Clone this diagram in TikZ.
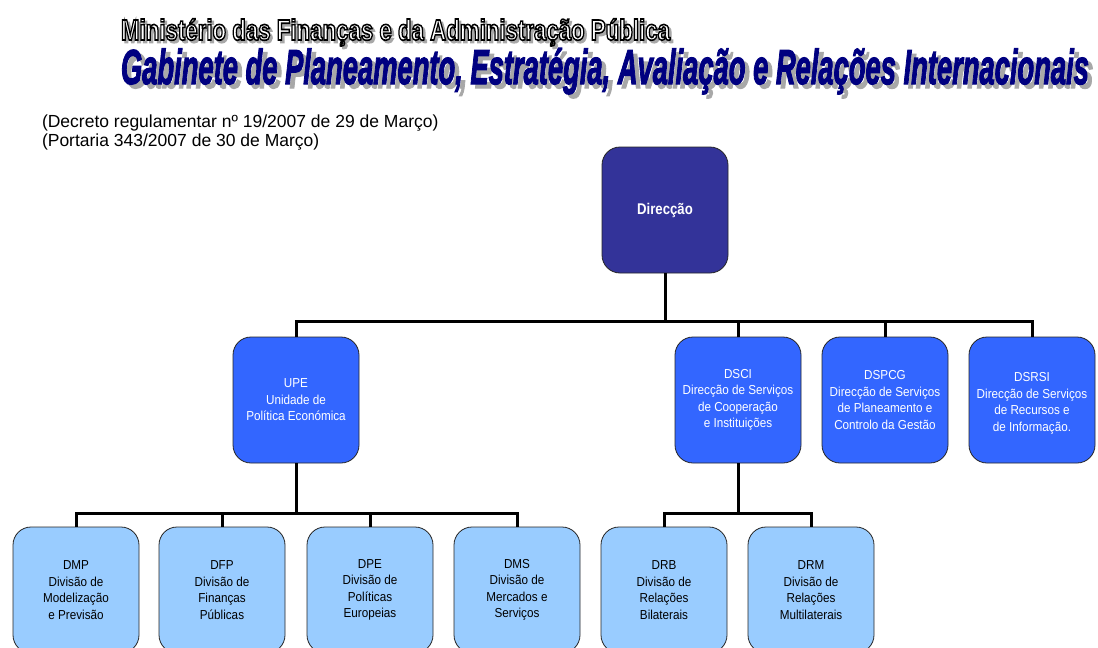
\documentclass[tikz,border=0pt]{standalone}
\usepackage{fontspec}
\usepackage{graphicx}
\setmainfont{Liberation Sans}
\newfontfamily\boxfont[FakeStretch=0.9]{Liberation Sans}
\newfontfamily\dirfont[FakeStretch=0.85]{Liberation Sans}
\definecolor{dirc}{HTML}{333399}
\definecolor{midc}{HTML}{3366FF}
\definecolor{lowc}{HTML}{99CCFF}
\definecolor{navyc}{HTML}{000080}
\definecolor{shadc}{HTML}{A8A8A8}
% text render mode 2 (fill + stroke); stroke colour set after the fill colour
\newcommand{\strokeblack}[1]{\special{pdf:literal direct 0 0 0 RG 2 Tr #1 w}}
\newcommand{\strokesame}[1]{\special{pdf:literal direct 2 Tr #1 w}}
\newcommand{\strokeoff}{\special{pdf:literal direct 0 Tr}}
\newcommand{\txtA}{Ministério das Finanças e da Administração Pública}
\newcommand{\txtB}{Gabinete de Planeamento, Estratégia, Avaliação e Relações Internacionais}
\newcommand{\fitA}[1]{\resizebox{549pt}{\height}{\fontsize{29}{29}\selectfont\bfseries #1}}
\newcommand{\fitB}[1]{\resizebox{968pt}{\height}{\fontsize{49}{49}\selectfont\bfseries\itshape #1}}
\newcommand{\outA}{%
  \makebox[0pt][l]{\kern2.5pt\raisebox{-2.5pt}{\color{shadc}\fitA{\strokesame{1.6}\txtA\strokeoff}}}%
  {\color{white}\fitA{\strokeblack{1.6}\txtA\strokeoff}}}
\newcommand{\outB}{%
  \makebox[0pt][l]{\kern4.5pt\raisebox{-4pt}{\color{shadc}\fitB{\strokesame{1.4}\txtB\strokeoff}}}%
  {\color{navyc}\fitB{\strokesame{1.4}\txtB\strokeoff}}}
\begin{document}
\begin{tikzpicture}[x=1pt,y=-1pt,
  orgbox/.style={draw=black!85, line width=0.8pt, rounded corners=18pt,
    minimum width=126pt, minimum height=126pt, inner sep=0pt, align=center,
    font=\boxfont\fontsize{13}{16.5}\selectfont},
  topbox/.style={orgbox, fill=dirc, text=white, font=\dirfont\bfseries\fontsize{15.5}{18}\selectfont},
  midbox/.style={orgbox, fill=midc, text=white},
  lowbox/.style={orgbox, fill=lowc, text=black},
  conn/.style={line width=3pt, draw=black},
  ttl/.style={anchor=base west, inner sep=0pt, outer sep=0pt}]
\useasboundingbox (0,0) rectangle (1098,648);
\fill[white] (0,0) rectangle (1098,648);

% titles
\node[ttl] (t1) at (121,40) {\outA};
\node[ttl] (t2) at (121,84) {\outB};

% decree
\node[ttl, font=\fontsize{17.5}{20}\selectfont] (dec1) at (42,127) {(Decreto regulamentar nº 19/2007 de 29 de Março)};
\node[ttl, font=\fontsize{17.5}{20}\selectfont] (dec2) at (42,146) {(Portaria 343/2007 de 30 de Março)};

% boxes
\node[topbox] (dir) at (665,210) {Direcção};
\node[midbox] (upe) at (296,400) {UPE\\Unidade de\\Política Económica};
\node[midbox] (dsci) at (738,400) {DSCI\\Direcção de Serviços\\de Cooperação\\e Instituições};
\node[midbox] (dspcg) at (885,400) {DSPCG\\Direcção de Serviços\\de Planeamento e\\Controlo da Gestão};
\node[midbox] (dsrsi) at (1032,400) {\mbox{}\\[-0.5pt]DSRSI\\Direcção de Serviços\\de Recursos e\\de Informação.};

\node[lowbox] (dmp) at (76,590) {DMP\\Divisão de\\Modelização\\e Previsão};
\node[lowbox] (dfp) at (222,590) {DFP\\Divisão de\\Finanças\\Públicas};
\node[lowbox] (dpe) at (370,590) {DPE\\Divisão de\\Políticas\\Europeias};
\node[lowbox] (dms) at (517,590) {DMS\\Divisão de\\Mercados e\\Serviços};
\node[lowbox] (drb) at (664,590) {DRB\\Divisão de\\Relações\\Bilaterais};
\node[lowbox] (drm) at (811,590) {DRM\\Divisão de\\Relações\\Multilaterais};

% bus coordinates
\coordinate (bus1) at (0,321);
\coordinate (bus2) at (0,513);

% connectors
\foreach \c in {upe,dsci,dspcg,dsrsi}
  \draw[conn] (dir.south) -- (dir.south |- bus1) -| (\c.north);
\foreach \c in {dmp,dfp,dpe,dms}
  \draw[conn] (upe.south) -- (upe.south |- bus2) -| (\c.north);
\foreach \c in {drb,drm}
  \draw[conn] (dsci.south) -- (dsci.south |- bus2) -| (\c.north);
\end{tikzpicture}
\end{document}
